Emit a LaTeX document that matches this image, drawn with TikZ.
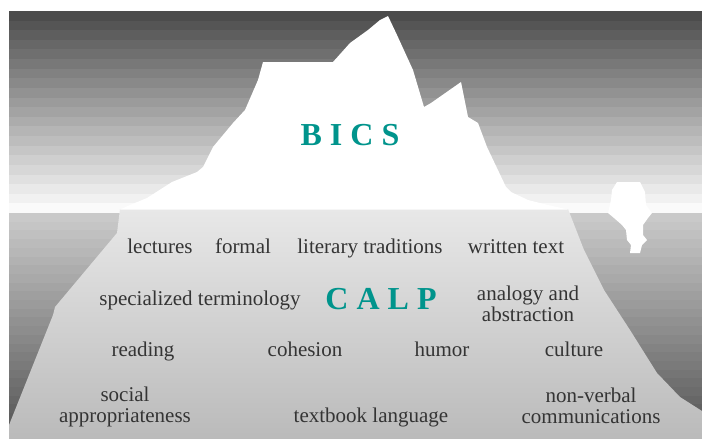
\documentclass[tikz,border=0pt]{standalone}
\usepackage{fontspec}
\setmainfont{Liberation Serif}
\definecolor{teal}{RGB}{0,148,140}
\definecolor{ink}{RGB}{52,52,52}
\begin{document}
\begin{tikzpicture}[x=1pt,y=-1pt,
  word/.style={anchor=base,inner sep=0pt,text=ink,font=\fontsize{21}{21}\selectfont},
  pair/.style={word,align=center},
  title/.style={anchor=base,inner sep=0pt,text=teal,font=\fontsize{32}{32}\selectfont\bfseries}]
\useasboundingbox (0,0) rectangle (702,439);
\fill[white] (0,0) rectangle (702,439);

% sky: stepped bands, dark at the top, almost white at the waterline
\foreach \i in {0,...,20}{
  \pgfmathsetmacro\ya{11+\i*9.62}
  \pgfmathsetmacro\yb{\ya+9.9}
  \pgfmathsetmacro\g{30+68*\i/20}
  \fill[white!\g!black] (9,\ya) rectangle (702,\yb);
}
% deep water: stepped bands, light below the surface, dark at the bottom
\foreach \i in {0,...,25}{
  \pgfmathsetmacro\ya{213+\i*8.7}
  \pgfmathsetmacro\yb{\ya+9}
  \pgfmathsetmacro\g{79-46*\i/25}
  \fill[white!\g!black] (9,\ya) rectangle (702,\yb);
}

% submerged part of the iceberg
\shade[top color=white!91!black,bottom color=white!73!black]
  (120,209) -- (117,233) -- (55,307) -- (53,315) -- (9,425) -- (9,439)
  -- (702,439) -- (702,411) -- (680,397) -- (657,373) -- (630,330)
  -- (604,290) -- (584,250) -- (568,209) -- cycle;

% visible tip of the iceberg
\fill[white]
  (120,209.5) -- (130,205) -- (147,198) -- (172,182) -- (197,172) -- (203,167)
  -- (213,147) -- (233,123) -- (245,110) -- (258,80) -- (263,62) -- (333,62)
  -- (350,43) -- (368,30) -- (380,20) -- (388,16) -- (397,35) -- (413,70)
  -- (424,107) -- (431,103) -- (461,82) -- (468,117) -- (478,123) -- (487,147)
  -- (506,187) -- (511,192) -- (528,200) -- (548,205) -- (568,209.5) -- cycle;

% small floe on the right
\fill[white]
  (617,182) -- (640,182) -- (645,192) -- (646,205) -- (652,213) -- (648,218)
  -- (643,225) -- (643,235) -- (647,240) -- (642,245) -- (640,253) -- (630,253)
  -- (631,245) -- (627,240) -- (626,230) -- (622,225) -- (614,218) -- (608,213)
  -- (611,200) -- (612,190) -- cycle;

% labels (two-line labels are anchored on the baseline of their last line)
\node[title] (bics) at (350,145) {B I C S};
\node[title] (calp) at (381,309) {C A L P};

\node[word] (lect) at (160,253) {lectures};
\node[word] (form) at (243,253) {formal};
\node[word] (lit)  at (370,253) {literary traditions};
\node[word] (writ) at (516,253) {written text};

\node[word] (term) at (200,305) {specialized terminology};
\node[pair] (anal) at (528,321) {analogy and\\abstraction};

\node[word] (read) at (143,356) {reading};
\node[word] (cohe) at (305,356) {cohesion};
\node[word] (humo) at (442,356) {humor};
\node[word] (cult) at (574,356) {culture};

\node[pair] (soc)  at (125,422) {social\\appropriateness};
\node[word] (text) at (371,422) {textbook language};
\node[pair] (nonv) at (591,423) {non-verbal\\communications};
\end{tikzpicture}
\end{document}
